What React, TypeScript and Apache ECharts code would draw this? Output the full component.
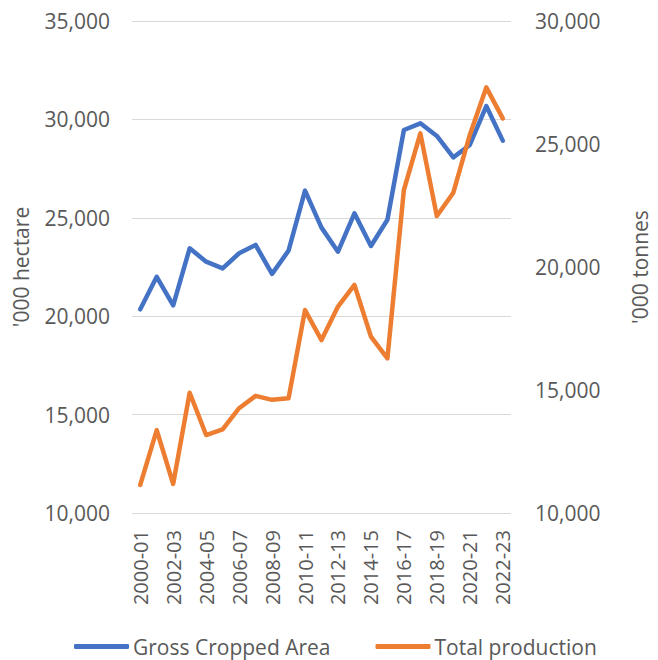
import React, { useEffect, useRef } from "react";
import * as echarts from "echarts";

const categories = [
  "2000-01", "2001-02", "2002-03", "2003-04", "2004-05", "2005-06", "2006-07", "2007-08",
  "2008-09", "2009-10", "2010-11", "2011-12", "2012-13", "2013-14", "2014-15", "2015-16",
  "2016-17", "2017-18", "2018-19", "2019-20", "2020-21", "2021-22", "2022-23",
];

const grossCroppedArea = [
  20350, 22000, 20550, 23450, 22770, 22430, 23200, 23620, 22150, 23330, 26380, 24500,
  23280, 25230, 23570, 24900, 29460, 29800, 29160, 28070, 28700, 30680, 28920,
];

const totalProduction = [
  11140, 13370, 11180, 14890, 13170, 13400, 14260, 14760, 14600, 14660, 18250, 17030,
  18390, 19270, 17170, 16290, 23130, 25430, 22070, 23020, 25370, 27300, 26040,
];

const FONT = "Open Sans";
const GREY = "#595959";

export default function App() {
  const ref = useRef<HTMLDivElement>(null);
  useEffect(() => {
    if (!ref.current) return;
    const chart = echarts.init(ref.current, null, { renderer: "svg" });
    chart.setOption({
      animation: false,
      textStyle: { fontFamily: FONT },
      grid: { left: 132, right: 125, top: 21, bottom: 147, containLabel: false },
      legend: {
        left: 74,
        top: 636,
        icon: "roundRect",
        itemWidth: 55,
        itemHeight: 5,
        itemGap: 45,
        padding: 0,
        textStyle: { fontFamily: FONT, fontSize: 21, color: GREY, padding: [0, 0, 0, -1] },
        data: ["Gross Cropped Area", "Total production"],
      },
      xAxis: {
        type: "category",
        data: categories,
        boundaryGap: true,
        axisLine: { show: false },
        axisTick: { show: false },
        axisLabel: {
          interval: 1,
          rotate: 90,
          margin: 17,
          fontFamily: FONT,
          fontSize: 20,
          color: GREY,
        },
      },
      yAxis: [
        {
          type: "value",
          min: 10000,
          max: 35000,
          interval: 5000,
          name: "'000 hectare",
          nameLocation: "middle",
          nameRotate: 90,
          nameGap: 101,
          nameTextStyle: { fontFamily: FONT, fontSize: 21, color: GREY },
          axisLine: { show: false },
          axisTick: { show: false },
          axisLabel: {
            margin: 22,
            fontFamily: FONT,
            fontSize: 21,
            color: GREY,
            formatter: (v: number) => v.toLocaleString("en-US"),
          },
          splitLine: { lineStyle: { color: "#D9D9D9", width: 1 } },
        },
        {
          type: "value",
          min: 10000,
          max: 30000,
          interval: 5000,
          name: "'000 tonnes",
          nameLocation: "middle",
          nameRotate: 90,
          nameGap: 118,
          nameTextStyle: { fontFamily: FONT, fontSize: 21, color: GREY },
          axisLine: { show: false },
          axisTick: { show: false },
          axisLabel: {
            margin: 24,
            fontFamily: FONT,
            fontSize: 21,
            color: GREY,
            formatter: (v: number) => v.toLocaleString("en-US"),
          },
          splitLine: { show: false },
        },
      ],
      series: [
        {
          name: "Gross Cropped Area",
          type: "line",
          yAxisIndex: 0,
          data: grossCroppedArea,
          showSymbol: false,
          symbol: "none",
          lineStyle: { color: "#4472C4", width: 4.5, cap: "round", join: "round" },
          itemStyle: { color: "#4472C4" },
        },
        {
          name: "Total production",
          type: "line",
          yAxisIndex: 1,
          data: totalProduction,
          showSymbol: false,
          symbol: "none",
          lineStyle: { color: "#ED7D31", width: 4.5, cap: "round", join: "round" },
          itemStyle: { color: "#ED7D31" },
        },
      ],
    });
    return () => chart.dispose();
  }, []);
  return <div ref={ref} style={{ width: 658, height: 660, position: "absolute", left: 0, top: 0 }} />;
}
